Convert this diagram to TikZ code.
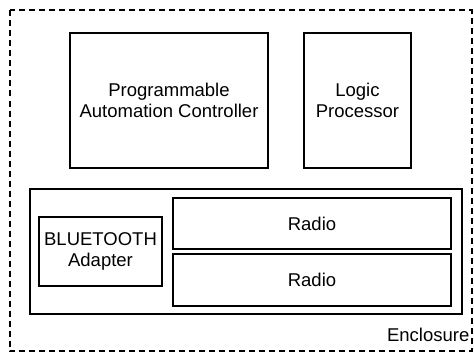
\documentclass[tikz,border=0pt]{standalone}
\usepackage{fontspec}
\setmainfont{Liberation Sans}
\begin{document}
\begin{tikzpicture}[x=1pt,y=-1pt,
  box/.style={draw=black,line width=2pt,inner sep=0pt},
  lbl/.style={font=\fontsize{18.5}{21.5}\selectfont,align=center,inner sep=0pt}]
\useasboundingbox (0,0) rectangle (474,353);
\draw[line width=2pt,dash pattern=on 6pt off 4pt] (9.5,10.5) rectangle (471.5,351);
\draw[box] (70,33) rectangle (268,168);
\node[lbl] (pac) at (169,100.5) {Programmable\\Automation Controller};
\draw[box] (304,33) rectangle (411,168);
\node[lbl] (lp) at (357.5,100.5) {Logic\\Processor};
\draw[box] (30,189) rectangle (462,314);
\draw[box] (39,217) rectangle (162,286);
\node[lbl] (bt) at (100.5,251.5) {BLUETOOTH\\Adapter};
\draw[box] (173,198) rectangle (451,249);
\node[lbl] (r1) at (312,223.5) {Radio};
\draw[box] (173,254) rectangle (451,306);
\node[lbl] (r2) at (312,280) {Radio};
\node[lbl,anchor=east] (enc) at (469.5,335) {Enclosure};
\end{tikzpicture}
\end{document}
